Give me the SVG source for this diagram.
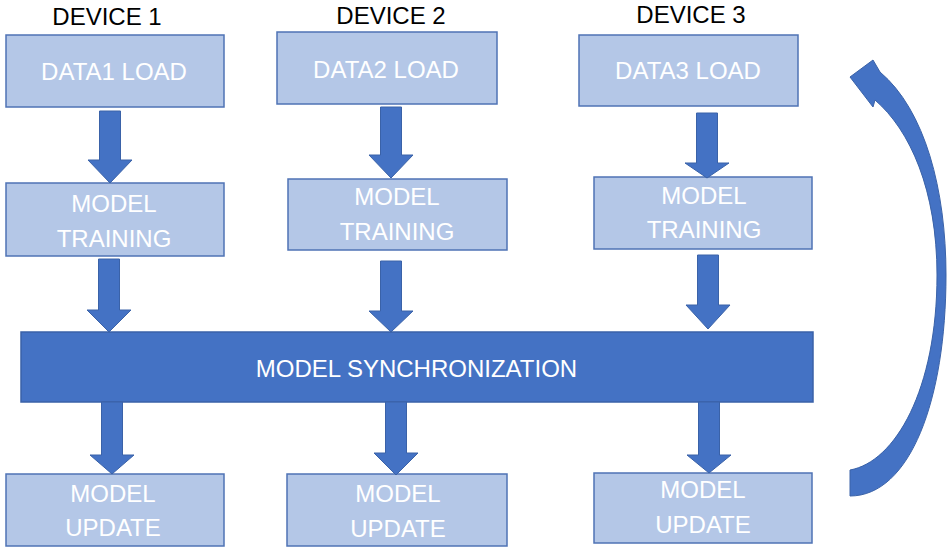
<svg xmlns="http://www.w3.org/2000/svg" width="950" height="552" viewBox="0 0 950 552">
<style>
.box{fill:#b4c7e7;stroke:#4f73b5;stroke-width:1.5}
.sync{fill:#4472c4;stroke:#3a62a8;stroke-width:1.5}
.t{font-family:"Liberation Sans",Arial,sans-serif;font-size:24px;fill:#ffffff;text-anchor:middle}
.h{font-family:"Liberation Sans",Arial,sans-serif;font-size:24px;fill:#000000;text-anchor:middle}
.arr{fill:#4472c4;stroke:#3a62a8;stroke-width:1}
</style>
<rect width="950" height="552" fill="#ffffff"/>
<g id="titles">
<text class="h" x="107" y="25">DEVICE 1</text>
<text class="h" x="391" y="24">DEVICE 2</text>
<text class="h" x="691" y="23">DEVICE 3</text>
</g>
<g id="data1"><rect class="box" x="6" y="35" width="218" height="72"/><text class="t" x="114" y="80">DATA1 LOAD</text></g>
<g id="data2"><rect class="box" x="277" y="32" width="220" height="72"/><text class="t" x="386" y="78">DATA2 LOAD</text></g>
<g id="data3"><rect class="box" x="579" y="35" width="219" height="71"/><text class="t" x="688" y="79">DATA3 LOAD</text></g>
<g id="train1"><rect class="box" x="6" y="183" width="218" height="73"/><text class="t" x="114" y="212">MODEL</text><text class="t" x="114" y="247">TRAINING</text></g>
<g id="train2"><rect class="box" x="288" y="179" width="219" height="71"/><text class="t" x="397" y="205">MODEL</text><text class="t" x="397" y="240">TRAINING</text></g>
<g id="train3"><rect class="box" x="594" y="177" width="218" height="72"/><text class="t" x="704" y="204">MODEL</text><text class="t" x="704" y="238">TRAINING</text></g>
<g id="sync"><rect class="sync" x="21" y="332" width="792" height="70"/><text class="t" x="416.5" y="377">MODEL SYNCHRONIZATION</text></g>
<g id="update1"><rect class="box" x="6" y="474" width="218" height="72"/><text class="t" x="113" y="502">MODEL</text><text class="t" x="113" y="536">UPDATE</text></g>
<g id="update2"><rect class="box" x="287" y="474" width="220" height="72"/><text class="t" x="398" y="502">MODEL</text><text class="t" x="398" y="537">UPDATE</text></g>
<g id="update3"><rect class="box" x="594" y="473" width="218" height="70"/><text class="t" x="703" y="498">MODEL</text><text class="t" x="703" y="533">UPDATE</text></g>
<g id="connectors">
<polygon class="arr" points="99.5,111 120.5,111 120.5,160 132,160 110,183 88,160 99.5,160"/>
<polygon class="arr" points="380.5,107 401.5,107 401.5,155 413,155 391,178 369,155 380.5,155"/>
<polygon class="arr" points="696.5,113 717.5,113 717.5,163 729,163 707,178 685,163 696.5,163"/>
<polygon class="arr" points="98.5,259 119.5,259 119.5,310 131,310 109,332 87,310 98.5,310"/>
<polygon class="arr" points="380.5,261 401.5,261 401.5,311 413,311 391,332 369,311 380.5,311"/>
<polygon class="arr" points="697.5,255 718.5,255 718.5,305 730,305 708,329 686,305 697.5,305"/>
<polygon class="arr" points="101.5,402 122.5,402 122.5,455 134,455 112,474 90,455 101.5,455"/>
<polygon class="arr" points="385.5,402 406.5,402 406.5,453 418,453 396,475 374,453 385.5,453"/>
<polygon class="arr" points="698.5,402 719.5,402 719.5,455 731,455 709,473 687,455 698.5,455"/>
<path class="arr" d="M850,470 C895,462 937,390 937,275 C937,190 910,130 875,100 L873,107 L850,77 L873,60 L880,72 C925,110 946,190 946,275 C946,400 910,496 850,496 Z"/>
</g>
</svg>
